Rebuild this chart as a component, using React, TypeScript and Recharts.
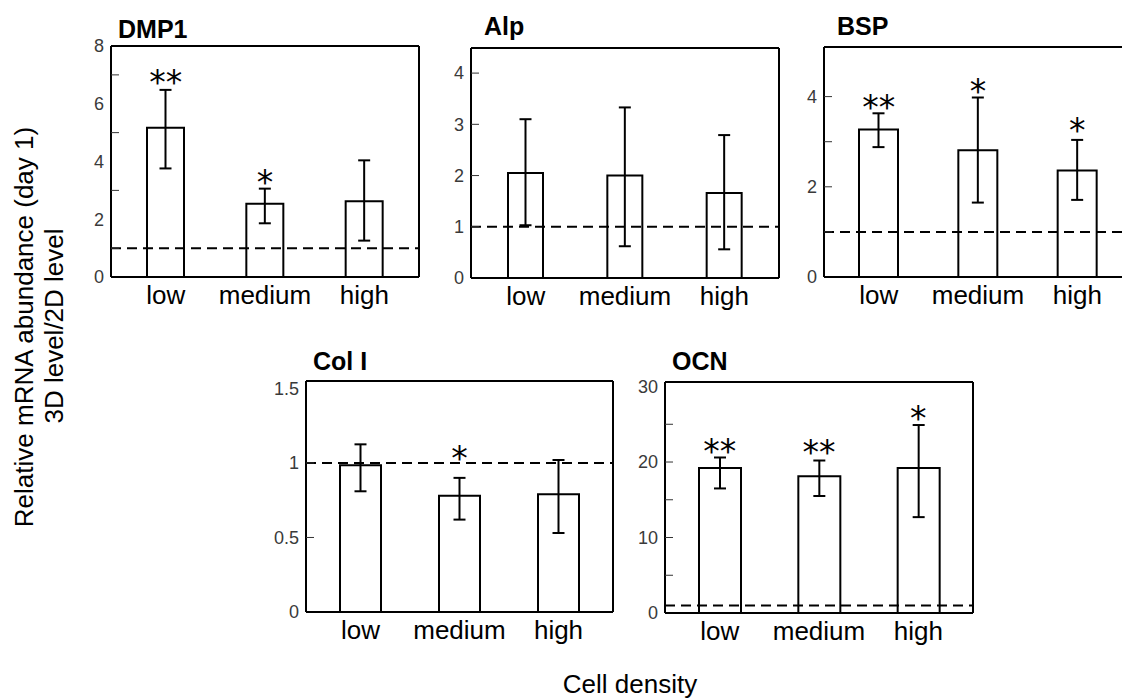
import React from 'react';
import { ComposedChart, Bar, ErrorBar, XAxis, YAxis, ReferenceLine, Scatter } from 'recharts';

// ---------- data ----------
const categories = ['low', 'medium', 'high'];

const dmp1Mean = [5.17, 2.54, 2.62];
const dmp1Low = [3.76, 1.86, 1.26];
const dmp1High = [6.48, 3.06, 4.04];
const dmp1Stars = ['**', '*', ''];
const dmp1StarAt = [6.9, 3.44, null];

const alpMean = [2.05, 2.0, 1.66];
const alpLow = [1.03, 0.62, 0.56];
const alpHigh = [3.1, 3.33, 2.79];
const alpStars = ['', '', ''];
const alpStarAt = [null, null, null];

const bspMean = [3.27, 2.81, 2.36];
const bspLow = [2.88, 1.65, 1.71];
const bspHigh = [3.63, 3.98, 3.04];
const bspStars = ['**', '*', '*'];
const bspStarAt = [3.85, 4.21, 3.34];

const col1Mean = [0.985, 0.78, 0.79];
const col1Low = [0.81, 0.62, 0.53];
const col1High = [1.125, 0.9, 1.02];
const col1Stars = ['', '*', ''];
const col1StarAt = [null, 1.06, null];

const ocnMean = [19.2, 18.1, 19.2];
const ocnLow = [16.5, 15.5, 12.7];
const ocnHigh = [20.6, 20.2, 24.9];
const ocnStars = ['**', '**', '*'];
const ocnStarAt = [22.0, 21.8, 26.4];

const dmp1Ticks = [0, 1, 2, 3, 4, 5, 6, 7, 8];
const dmp1TickLabels = [0, 2, 4, 6, 8];
const dmp1TickMarks = [1, 3, 5, 7];
const alpTicks = [0, 1, 2, 3, 4];
const alpTickLabels = [0, 1, 2, 3, 4];
const alpTickMarks = [1, 2, 3, 4];
const bspTicks = [0, 1, 2, 3, 4];
const bspTickLabels = [0, 2, 4];
const bspTickMarks = [1, 2, 3, 4];
const col1Ticks = [0, 0.5, 1, 1.5];
const col1TickLabels = [0, 0.5, 1, 1.5];
const col1TickMarks = [0.5, 1];
const ocnTicks = [0, 5, 10, 15, 20, 25, 30];
const ocnTickLabels = [0, 10, 20, 30];
const ocnTickMarks = [5, 10, 15, 20, 25];

const baseline2D = 1;

// ---------- layout / style ----------
const FONT = '"Liberation Sans", Arial, Helvetica, sans-serif';
const YW = 60;
const MT = 14;
const MR = 4;
const XH = 44;

type PanelDef = {
  title: string;
  mean: number[];
  low: number[];
  high: number[];
  stars: string[];
  starAt: (number | null)[];
  ticks: number[];
  tickLabels: number[];
  tickMarks: number[];
  max: number;
  px: number;
  py: number;
  pw: number;
  ph: number;
  barSize: number;
  tx: number;
  ty: number;
};

const panels: PanelDef[] = [
  { title: 'DMP1', mean: dmp1Mean, low: dmp1Low, high: dmp1High, stars: dmp1Stars, starAt: dmp1StarAt, ticks: dmp1Ticks, tickLabels: dmp1TickLabels, tickMarks: dmp1TickMarks, max: 8, px: 111, py: 46, pw: 308, ph: 231, barSize: 37, tx: 118, ty: 38 },
  { title: 'Alp', mean: alpMean, low: alpLow, high: alpHigh, stars: alpStars, starAt: alpStarAt, ticks: alpTicks, tickLabels: alpTickLabels, tickMarks: alpTickMarks, max: 4.49, px: 471, py: 48, pw: 308, ph: 230, barSize: 35, tx: 484, ty: 35 },
  { title: 'BSP', mean: bspMean, low: bspLow, high: bspHigh, stars: bspStars, starAt: bspStarAt, ticks: bspTicks, tickLabels: bspTickLabels, tickMarks: bspTickMarks, max: 5.1, px: 824, py: 47, pw: 308, ph: 230, barSize: 39, tx: 837, ty: 35 },
  { title: 'Col I', mean: col1Mean, low: col1Low, high: col1High, stars: col1Stars, starAt: col1StarAt, ticks: col1Ticks, tickLabels: col1TickLabels, tickMarks: col1TickMarks, max: 1.55, px: 306, py: 381, pw: 307, ph: 231, barSize: 41, tx: 313, ty: 370 },
  { title: 'OCN', mean: ocnMean, low: ocnLow, high: ocnHigh, stars: ocnStars, starAt: ocnStarAt, ticks: ocnTicks, tickLabels: ocnTickLabels, tickMarks: ocnTickMarks, max: 30.6, px: 665, py: 382, pw: 308, ph: 231, barSize: 42, tx: 672, ty: 370 },
];

function buildRows(p: PanelDef) {
  return categories.map((cat, i) => ({
    cat,
    mean: p.mean[i],
    err: [p.mean[i] - p.low[i], p.high[i] - p.mean[i]],
    star: p.stars[i],
    starAt: p.starAt[i],
  }));
}

function makeYTick(labels: number[], marks: number[]) {
  return (props: any) => {
    const { x, y, payload } = props;
    const v = Number(payload.value);
    const mark = marks.includes(v);
    const lab = labels.includes(v);
    return (
      <g>
        {mark && <line x1={x} x2={x + 8} y1={y} y2={y} stroke="#333" strokeWidth={1} />}
        {lab && (
          <text x={x - 7} y={y} dy="0.35em" textAnchor="end" fontSize={18} fill="#3a3a3a" fontFamily={FONT}>
            {String(v)}
          </text>
        )}
      </g>
    );
  };
}

const starShape = (props: any) => {
  const { cx, cy, payload } = props;
  if (!payload || !payload.star || !Number.isFinite(cx) || !Number.isFinite(cy)) return <g />;
  return (
    <text x={cx} y={cy} dy={16} textAnchor="middle" fontSize={33} fontFamily="DejaVu Sans" fill="#000">
      {payload.star}
    </text>
  );
};

function Panel({ p }: { p: PanelDef }) {
  const rows = buildRows(p);
  return (
    <div style={{ position: 'absolute', left: p.px - YW, top: p.py - MT }}>
      <ComposedChart
        width={YW + p.pw + MR}
        height={MT + p.ph + XH}
        data={rows}
        margin={{ top: MT, right: MR - 1, bottom: 0, left: 0 }}
      >
        <XAxis
          dataKey="cat"
          type="category"
          padding={{ left: 5, right: 5 }}
          interval={0}
          tickLine={false}
          tickSize={0}
          tickMargin={9}
          height={XH}
          axisLine={{ stroke: '#000', strokeWidth: 2 }}
          tick={{ fontSize: 26, fill: '#000', fontFamily: FONT }}
        />
        <YAxis
          yAxisId="l"
          type="number"
          domain={[0, p.max]}
          allowDataOverflow
          ticks={p.ticks}
          interval={0}
          width={YW}
          tickLine={false}
          tickSize={0}
          tickMargin={0}
          axisLine={{ stroke: '#000', strokeWidth: 2 }}
          tick={makeYTick(p.tickLabels, p.tickMarks)}
        />
        <YAxis
          yAxisId="r"
          orientation="right"
          type="number"
          domain={[0, p.max]}
          allowDataOverflow
          width={1}
          tick={false}
          tickLine={false}
          axisLine={{ stroke: '#000', strokeWidth: 2 }}
        />
        <Bar yAxisId="l" dataKey="mean" barSize={p.barSize} fill="none" stroke="#000" strokeWidth={2} isAnimationActive={false}>
          <ErrorBar dataKey="err" direction="y" width={6} stroke="#000" strokeWidth={2} />
        </Bar>
        <ReferenceLine yAxisId="l" y={baseline2D} stroke="#000" strokeWidth={2} strokeDasharray="10 6" />
        <ReferenceLine yAxisId="r" y={p.max} stroke="#000" strokeWidth={2} />
        <Scatter yAxisId="l" dataKey="starAt" shape={starShape} isAnimationActive={false} />
      </ComposedChart>
    </div>
  );
}

export default function App() {
  return (
    <div
      style={{
        position: 'absolute',
        left: 0,
        top: 0,
        width: 1122,
        height: 698,
        overflow: 'hidden',
        background: '#fff',
        fontFamily: FONT,
      }}
    >
      {panels.map((p) => (
        <Panel key={p.title} p={p} />
      ))}
      <svg width={1122} height={698} style={{ position: 'absolute', left: 0, top: 0, pointerEvents: 'none' }}>
        {panels.map((p) => (
          <text key={p.title} x={p.tx} y={p.ty} fontSize={25} fontWeight="bold" fontFamily={FONT} fill="#000">
            {p.title}
          </text>
        ))}
        <text transform="translate(33,327) rotate(-90)" textAnchor="middle" fontSize={26} fontFamily={FONT} fill="#000">
          Relative mRNA abundance (day 1)
        </text>
        <text transform="translate(63,326) rotate(-90)" textAnchor="middle" fontSize={26} fontFamily={FONT} fill="#000">
          3D level/2D level
        </text>
        <text x={630} y={693} textAnchor="middle" fontSize={26} fontFamily={FONT} fill="#000">
          Cell density
        </text>
      </svg>
    </div>
  );
}
